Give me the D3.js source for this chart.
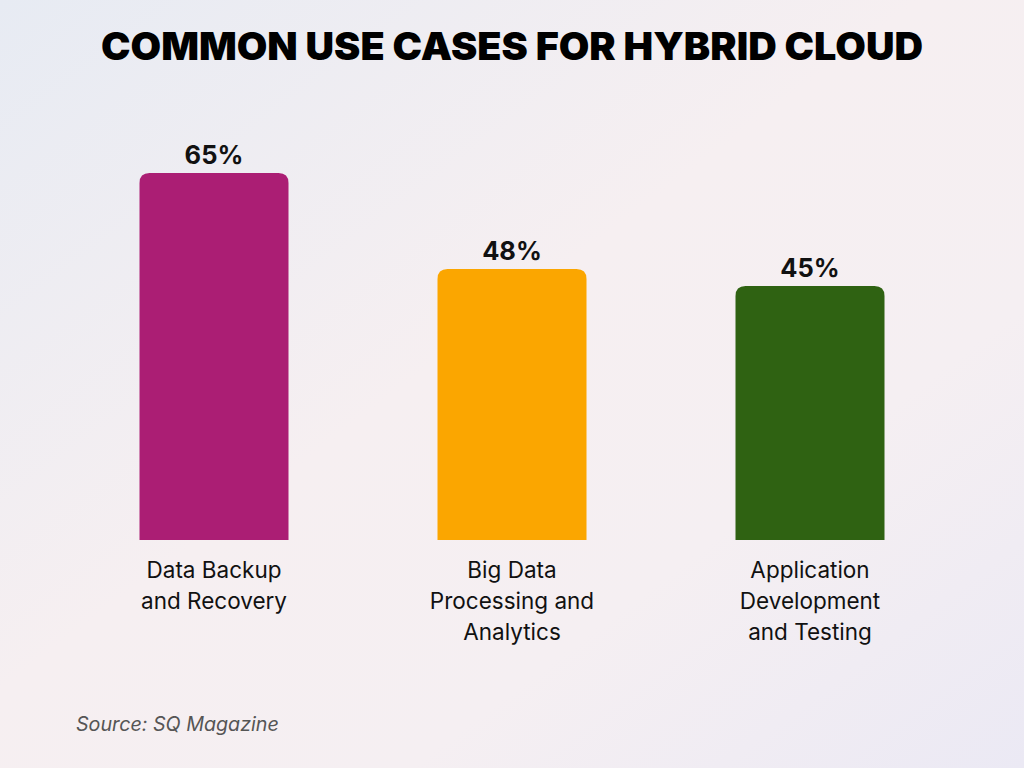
<!DOCTYPE html>
<html><head><meta charset="utf-8">
<script src="https://cdn.jsdelivr.net/npm/d3@7"></script>
<style>html,body{margin:0;padding:0;}svg{display:block;}</style>
</head><body>
<script>
const categories = [["Data Backup","and Recovery"],["Big Data","Processing and","Analytics"],["Application","Development","and Testing"]];
const values = [65, 48, 45];
const colors = ["#ab1e74", "#fba600", "#2f6212"];
const title = "COMMON USE CASES FOR HYBRID CLOUD";
const source = "Source: SQ Magazine";

const W = 1024, H = 768;
const svg = d3.select("body").append("svg").attr("width", W).attr("height", H);
const defs = svg.append("defs");
const g1 = defs.append("linearGradient").attr("id","bg").attr("x1","0").attr("y1","0").attr("x2","1").attr("y2","1");
g1.append("stop").attr("offset","0").attr("stop-color","#e7ebf3");
g1.append("stop").attr("offset","0.45").attr("stop-color","#f6eff1");
g1.append("stop").attr("offset","0.7").attr("stop-color","#f5eff2");
g1.append("stop").attr("offset","1").attr("stop-color","#ebe9f4");
svg.append("rect").attr("width",W).attr("height",H).attr("fill","url(#bg)");

svg.append("text").attr("x",512).attr("y",60).attr("text-anchor","middle")
  .attr("font-family","Inter, Roboto, sans-serif").attr("font-weight",900).attr("font-size",38)
  .attr("textLength",822).attr("lengthAdjust","spacingAndGlyphs")
  .attr("fill","#000").text(title);

const x = d3.scaleBand().domain(d3.range(values.length)).range([65, 959]).paddingInner(0.5).paddingOuter(0.25);
const y = d3.scaleLinear().domain([0, 65]).range([540, 173]);

const r = 10;
function barPath(x0, w, yt, yb){
  return `M${x0},${yb}V${yt+r}Q${x0},${yt} ${x0+r},${yt}H${x0+w-r}Q${x0+w},${yt} ${x0+w},${yt+r}V${yb}Z`;
}
svg.selectAll("path.bar").data(values).enter().append("path").attr("class","bar")
  .attr("d",(d,i)=>barPath(x(i), x.bandwidth(), y(d), y(0)))
  .attr("fill",(d,i)=>colors[i]);

svg.selectAll("text.val").data(values).enter().append("text").attr("class","val")
  .attr("x",(d,i)=>x(i)+x.bandwidth()/2).attr("y",d=>y(d)-9)
  .attr("text-anchor","middle").attr("font-family","Inter, sans-serif").attr("font-weight",700)
  .attr("font-size",25.5).attr("fill","#111").text(d=>d+"%");

categories.forEach((lines,i)=>{
  const t = svg.append("text").attr("text-anchor","middle").attr("font-family","Inter, sans-serif")
    .attr("font-size",22.5).attr("fill","#111");
  lines.forEach((l,j)=>{
    t.append("tspan").attr("x",x(i)+x.bandwidth()/2).attr("y",578+j*31).text(l);
  });
});

svg.append("text").attr("x",76).attr("y",731).attr("font-family","Inter, sans-serif")
  .attr("font-style","italic").attr("font-size",19.7).attr("fill","#555").text(source);
</script>
</body></html>
